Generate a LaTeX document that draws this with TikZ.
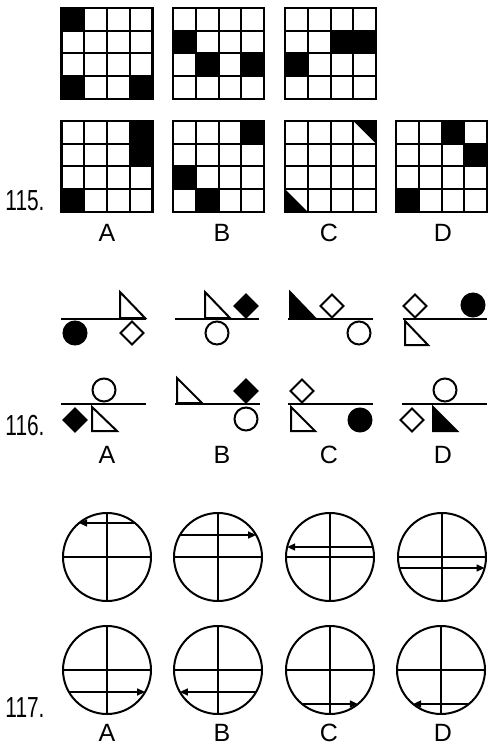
\documentclass[tikz,border=0pt]{standalone}
\usepackage{fontspec}
\setmainfont{Liberation Sans}
\newfontfamily\numfont{Liberation Sans}[FakeStretch=0.72]
\usetikzlibrary{arrows.meta}
\tikzset{
 gridln/.style={line width=2pt},
 shp/.style={line width=2pt},
 baseln/.style={line width=2pt},
 arr/.style={line width=1.5pt,-{Triangle[length=8pt,width=7pt]}},
 circ/.style={line width=2pt},
 cross/.style={line width=1.5pt},
 lbl/.style={inner sep=0pt,font=\fontsize{25}{25}\selectfont},
 num/.style={inner sep=0pt,font=\numfont\fontsize{29}{29}\selectfont},
}
\newcommand\Grid[3]{%
 \begin{scope}[shift={(#1,#2)}]
  \foreach \r/\c in {#3} \fill (\c*22.75,\r*22.75) rectangle ++(22.75,22.75);
  \foreach \i in {1,2,3} {\draw[gridln] (\i*22.75,0) -- ++(0,91); \draw[gridln] (0,\i*22.75) -- ++(91,0);}
  \draw[gridln,line width=2.5pt] (0,0) rectangle (91,91);
 \end{scope}}
\newcommand\Dia[3]{\draw[shp,#3] (#1,#2-11.5) -- (#1+11.5,#2) -- (#1,#2+11.5) -- (#1-11.5,#2) -- cycle;}
\newcommand\Cir[3]{\draw[shp,#3] (#1,#2) circle[radius=11.5pt];}
\newcommand\Tri[5]{\draw[shp,#5,line join=miter] (#1,#2) -- (#1,#3) -- (#4,#3) -- cycle;}
\newcommand\Wheel[2]{%
 \draw[circ] (#1,#2) circle[radius=44pt];
 \draw[cross] (#1-44,#2) -- (#1+44,#2);
 \draw[cross] (#1,#2-44) -- (#1,#2+44);}
\newcommand\Arr[4]{\draw[arr] ({#1-(#4)*sqrt(1936-(#3-#2)*(#3-#2))},#3) -- ({#1+(#4)*sqrt(1936-(#3-#2)*(#3-#2))},#3);}
\begin{document}
\begin{tikzpicture}[x=1pt,y=-1pt]
\useasboundingbox (0,0) rectangle (487,746);
% ---- 115 ----
\Grid{61.5}{8}{0/0,3/0,3/3}
\Grid{173}{8}{1/0,2/1,2/3}
\Grid{285}{8}{1/2,1/3,2/0}
\Grid{61.5}{121}{0/3,1/3,3/0}
\Grid{173}{121}{0/3,2/0,3/1}
\begin{scope}[shift={(285,121)}]
 \fill (68.25,0) -- (91,0) -- (91,22.75) -- cycle;
 \fill (0,68.25) -- (0,91) -- (22.75,91) -- cycle;
\end{scope}
\Grid{285}{121}{}
\Grid{396}{121}{0/2,1/3,3/0}
\node[num] (n115) at (25,201) {115.};
\node[lbl] (a115) at (107,232.5) {A};
\node[lbl] (b115) at (222,232.5) {B};
\node[lbl] (c115) at (329,232.5) {C};
\node[lbl] (d115) at (443,232.5) {D};
% ---- 116 row 1 ----
\draw[baseln] (61,319) -- (146,319);
\Cir{75}{333}{fill=black}
\Tri{120}{292}{318}{145}{}
\Dia{132}{333}{}
\draw[baseln] (175,319) -- (259,319);
\Tri{205}{292}{318}{230}{}
\Dia{246}{306}{fill=black}
\Cir{217}{333}{}
\draw[baseln] (288,319) -- (373,319);
\Tri{290}{292}{318}{315}{fill=black}
\Dia{332}{306}{}
\Cir{359}{333}{}
\draw[baseln] (403,319) -- (487,319);
\Dia{415}{306}{}
\Cir{473}{305}{fill=black}
\Tri{405}{321}{345}{428}{}
% ---- 116 row 2 ----
\draw[baseln] (61,404) -- (146,404);
\Cir{104}{390}{}
\Dia{75}{420}{fill=black}
\Tri{92}{407}{431}{117}{}
\draw[baseln] (175,404) -- (260,404);
\Tri{177}{378}{403}{202}{}
\Dia{246}{391}{fill=black}
\Cir{246}{419}{}
\draw[baseln] (288,404) -- (373,404);
\Dia{302}{391}{}
\Tri{291}{407}{431}{315}{}
\Cir{360}{420}{fill=black}
\draw[baseln] (402,404) -- (487,404);
\Cir{445}{390}{}
\Dia{412}{420}{}
\Tri{433}{407}{431}{457}{fill=black}
\node[num] (n116) at (25,426) {116.};
\node[lbl] (a116) at (107,454.5) {A};
\node[lbl] (b116) at (222,454.5) {B};
\node[lbl] (c116) at (329,454.5) {C};
\node[lbl] (d116) at (443,454.5) {D};
% ---- 117 ----
\Wheel{107}{557}\Arr{107}{557}{523}{-1}
\Wheel{218}{557}\Arr{218}{557}{535}{1}
\Wheel{330}{557}\Arr{330}{557}{547}{-1}
\Wheel{442}{557}\Arr{442}{557}{568}{1}
\Wheel{107}{670}\Arr{107}{670}{692}{1}
\Wheel{218}{670}\Arr{218}{670}{692}{-1}
\Wheel{330}{670}\Arr{330}{670}{704}{1}
\Wheel{441}{670}\Arr{441}{670}{704}{-1}
\node[num] (n117) at (25,708) {117.};
\node[lbl] (a117) at (107,733) {A};
\node[lbl] (b117) at (222,733) {B};
\node[lbl] (c117) at (329,733) {C};
\node[lbl] (d117) at (443,733) {D};
\end{tikzpicture}
\end{document}
